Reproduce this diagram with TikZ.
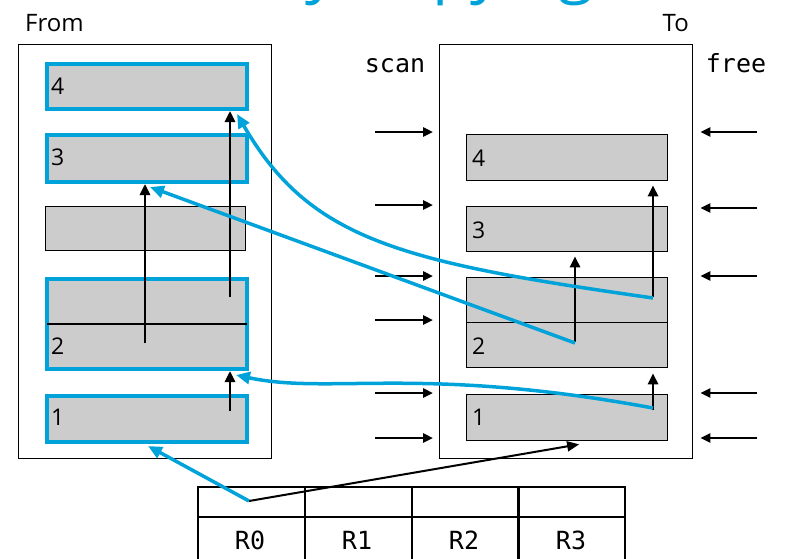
\documentclass[tikz,border=0pt]{standalone}
\usepackage{fontspec}
\setmainfont{Open Sans}
\setmonofont{DejaVu Sans Mono}
\usetikzlibrary{arrows.meta,calc}
\definecolor{cblue}{HTML}{00A3D9}
\definecolor{cgray}{HTML}{CCCCCC}
\begin{document}
\begin{tikzpicture}[x=1pt,y=-1pt,
  frame/.style={draw,line width=1.4pt,anchor=north west,inner sep=0pt},
  blk/.style={draw,fill=cgray,line width=1.3pt,anchor=north west,inner sep=0pt,minimum width=200pt},
  hl/.style={draw=cblue,fill=cgray,line width=4pt,anchor=north west,inner sep=0pt,minimum width=200pt},
  num/.style={anchor=west,inner sep=0pt,font=\fontsize{23}{23}\selectfont},
  lbl/.style={inner sep=0pt,font=\fontsize{24}{24}\selectfont},
  ttl/.style={inner sep=0pt,font=\ttfamily\fontsize{25}{25}\selectfont},
  cell/.style={draw,line width=1.5pt,anchor=north west,inner sep=0pt,minimum width=107pt},
  up/.style={line width=2.6pt,-{Triangle[length=11pt,width=10pt]}},
  barr/.style={line width=2.5pt,-{Triangle[length=10pt,width=9pt]}},
  bl/.style={draw=cblue,line width=3.5pt,-{Triangle[length=14pt,width=12pt]}},
  divider/.style={line width=1.3pt}
]
\useasboundingbox (0,0) rectangle (785,558);
\clip (0,0) rectangle (785,558);

% title (cut off at the top edge, as in the reference)
\node[anchor=base,text=cblue,inner sep=0pt,font=\fontsize{64}{64}\selectfont] (title) at (400,-10) {Lazy Copying};

% labels
\node[lbl,anchor=base west] (from) at (25,31) {From};
\node[lbl,anchor=base east] (to) at (689,31) {To};
\node[ttl,anchor=base] (scan) at (395,72) {scan};
\node[ttl,anchor=base] (free) at (736,72) {free};

% frames
\node[frame,minimum width=253pt,minimum height=414pt] (fframe) at (18,44) {};
\node[frame,minimum width=253pt,minimum height=414pt] (tframe) at (439,44) {};

% From blocks
\node[blk,minimum height=44pt] (fx) at (45,206) {};
\node[hl,minimum height=45pt] (f4) at (45,62) {};
\node[hl,minimum height=47pt] (f3) at (45,133) {};
\node[hl,minimum height=90pt] (f2) at (45,277) {};
\node[hl,minimum height=46pt] (f1) at (45,394) {};
\draw[divider] ($(f2.west)+(2,0)$) -- ($(f2.east)+(-2,0)$);
\node[num] (n4) at (51,86) {4};
\node[num] (n3) at (51,157) {3};
\node[num] (n2) at (51,346) {2};
\node[num] (n1) at (51,417) {1};

% To blocks
\node[blk,minimum width=201pt,minimum height=46pt] (t4) at (466,134) {};
\node[blk,minimum width=201pt,minimum height=45pt] (t3) at (466,206) {};
\node[blk,minimum width=201pt,minimum height=90pt] (t2) at (466,277) {};
\node[blk,minimum width=201pt,minimum height=46pt] (t1) at (466,394) {};
\draw[divider] (t2.west) -- (t2.east);
\node[num] (m4) at (472,158) {4};
\node[num] (m3) at (472,230) {3};
\node[num] (m2) at (472,346) {2};
\node[num] (m1) at (472,417) {1};

% forwarding arrows in From
\coordinate (fa1) at (145,343);
\coordinate (fa2) at (230,297);
\coordinate (fa3) at (230,411);
\draw[up] (fa1) -- (fa1 |- f3.south);
\draw[up] (fa2) -- (fa2 |- f4.south);
\draw[up] (fa3) -- (fa3 |- f2.south);

% arrows in To
\coordinate (ta1) at (575,342);
\coordinate (ta2) at (653,297);
\coordinate (ta3) at (653,410);
\draw[up] (ta1) -- ($(ta1 |- t3.south)+(0,4)$);
\draw[up] (ta2) -- ($(ta2 |- t4.south)+(0,4)$);
\draw[up] (ta3) -- ($(ta3 |- t2.south)+(0,5)$);

% scan arrows
\foreach \y [count=\i] in {132,205,276,320,393,438} {
  \coordinate (s\i) at (375,\y);
  \draw[barr] (s\i) -- ($(tframe.west |- s\i)+(-6,0)$);
}
% free arrows
\foreach \y [count=\i] in {132,208,276,393,438} {
  \coordinate (r\i) at (757,\y);
  \draw[barr] (r\i) -- ($(tframe.east |- r\i)+(7,0)$);
}

% register table
\node[cell,minimum height=30pt] (c0) at (197,486) {};
\node[cell,minimum height=30pt] (c1) at (304,486) {};
\node[cell,minimum height=30pt] (c2) at (411,486) {};
\node[cell,minimum height=30pt] (c3) at (517,486) {};
\node[cell,minimum height=52pt] (d0) at (197,516) {};
\node[cell,minimum height=52pt] (d1) at (304,516) {};
\node[cell,minimum height=52pt] (d2) at (411,516) {};
\node[cell,minimum height=52pt] (d3) at (517,516) {};
\node[ttl,anchor=base] (R0) at (250,549) {R0};
\node[ttl,anchor=base] (R1) at (357,549) {R1};
\node[ttl,anchor=base] (R2) at (464,549) {R2};
\node[ttl,anchor=base] (R3) at (571,549) {R3};

% pointers from R0
\coordinate (p0) at (249,501);
\draw[line width=2pt,-{Triangle[length=12pt,width=10pt]}] (p0) -- ($(t1.south)+(12,3)$);
\draw[bl] (p0) -- ($(f1.south)+(1,2)$);

% blue forwarding pointers
\draw[bl] ($(ta3)+(0,-2)$) .. controls (420,365) and (330,395) .. ($(f2.south)+(89,4)$);
\draw[bl] ($(ta1)+(0,1)$) -- ($(f3.south)+(3,3)$);
\draw[bl] ($(ta2)+(0,1)$) .. controls (400,262) and (310,240) .. ($(f4.south)+(90,3)$);
\end{tikzpicture}
\end{document}
